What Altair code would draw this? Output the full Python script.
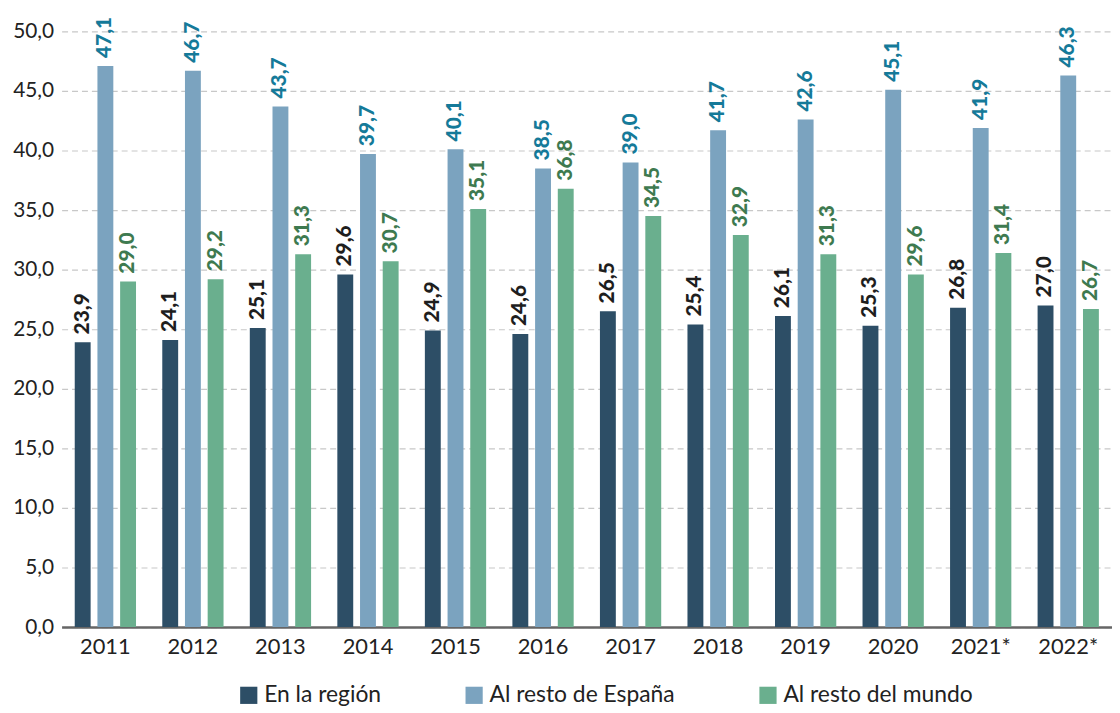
import altair as alt
import pandas as pd

years = ["2011", "2012", "2013", "2014", "2015", "2016", "2017", "2018", "2019", "2020", "2021*", "2022*"]
series = ["En la región", "Al resto de España", "Al resto del mundo"]
region = [23.9, 24.1, 25.1, 29.6, 24.9, 24.6, 26.5, 25.4, 26.1, 25.3, 26.8, 27.0]
espana = [47.1, 46.7, 43.7, 39.7, 40.1, 38.5, 39.0, 41.7, 42.6, 45.1, 41.9, 46.3]
mundo = [29.0, 29.2, 31.3, 30.7, 35.1, 36.8, 34.5, 32.9, 31.3, 29.6, 31.4, 26.7]
bar_colors = ["#2d4e66", "#7ba3bf", "#6aaf8e"]
label_colors = ["#1e1e1e", "#157a99", "#3e7a50"]

rows = []
for vals, s in zip([region, espana, mundo], series):
    for y, v in zip(years, vals):
        rows.append({"year": y, "serie": s, "value": v})
df = pd.DataFrame(rows)

FONT = "Lato"

x = alt.X("year:N", sort=years, title=None,
          scale=alt.Scale(paddingInner=0.30, paddingOuter=0.15),
          axis=alt.Axis(labelAngle=0, labelFontSize=22, labelColor="#222", labelFont=FONT,
                        ticks=False, domainColor="#666", domainWidth=2.5, labelPadding=10))
xo = alt.XOffset("serie:N", sort=series, scale=alt.Scale(paddingInner=0.3, paddingOuter=0.0))
y = alt.Y("value:Q", title=None,
          scale=alt.Scale(domain=[0, 50], nice=False),
          axis=alt.Axis(values=list(range(0, 51, 5)), labelFontSize=21, labelColor="#222",
                        labelFont=FONT, domain=False, ticks=False, labelPadding=8,
                        gridDash=[6, 4], gridColor="#c8c8c8", gridWidth=1.2,
                        labelExpr="replace(format(datum.value, '.1f'), '.', ',')"))

bars = alt.Chart(df).mark_bar().encode(
    x=x, xOffset=xo, y=y,
    color=alt.Color("serie:N", sort=series,
                    scale=alt.Scale(domain=series, range=bar_colors),
                    legend=alt.Legend(title=None, orient="none", direction="horizontal",
                                      legendX=177, legendY=657, symbolType="square",
                                      symbolSize=300, symbolStrokeWidth=0,
                                      labelFontSize=23, labelFont=FONT, labelColor="#222",
                                      labelLimit=400, columnPadding=82, symbolOpacity=1)),
)

labels = alt.Chart(df).transform_calculate(
    lab="replace(format(datum.value, '.1f'), '.', ',')"
).mark_text(angle=270, align="left", baseline="middle", dx=8, fontSize=21,
            fontWeight=900, font=FONT).encode(
    x=alt.X("year:N", sort=years), xOffset=alt.XOffset("serie:N", sort=series), y="value:Q",
    text="lab:N",
    color=alt.Color("serie:N", sort=series,
                    scale=alt.Scale(domain=series, range=label_colors), legend=None),
)

chart = alt.layer(bars, labels).resolve_scale(color="independent").properties(
    width=1058, height=600,
    autosize=alt.AutoSizeParams(type="none"),
    padding={"left": 54, "top": 21, "right": 0, "bottom": 84},
).configure_view(stroke=None).configure_axisY(grid=True).configure_axisX(grid=False)

chart.save("out.html", embed_options={"renderer": "svg", "actions": False})
